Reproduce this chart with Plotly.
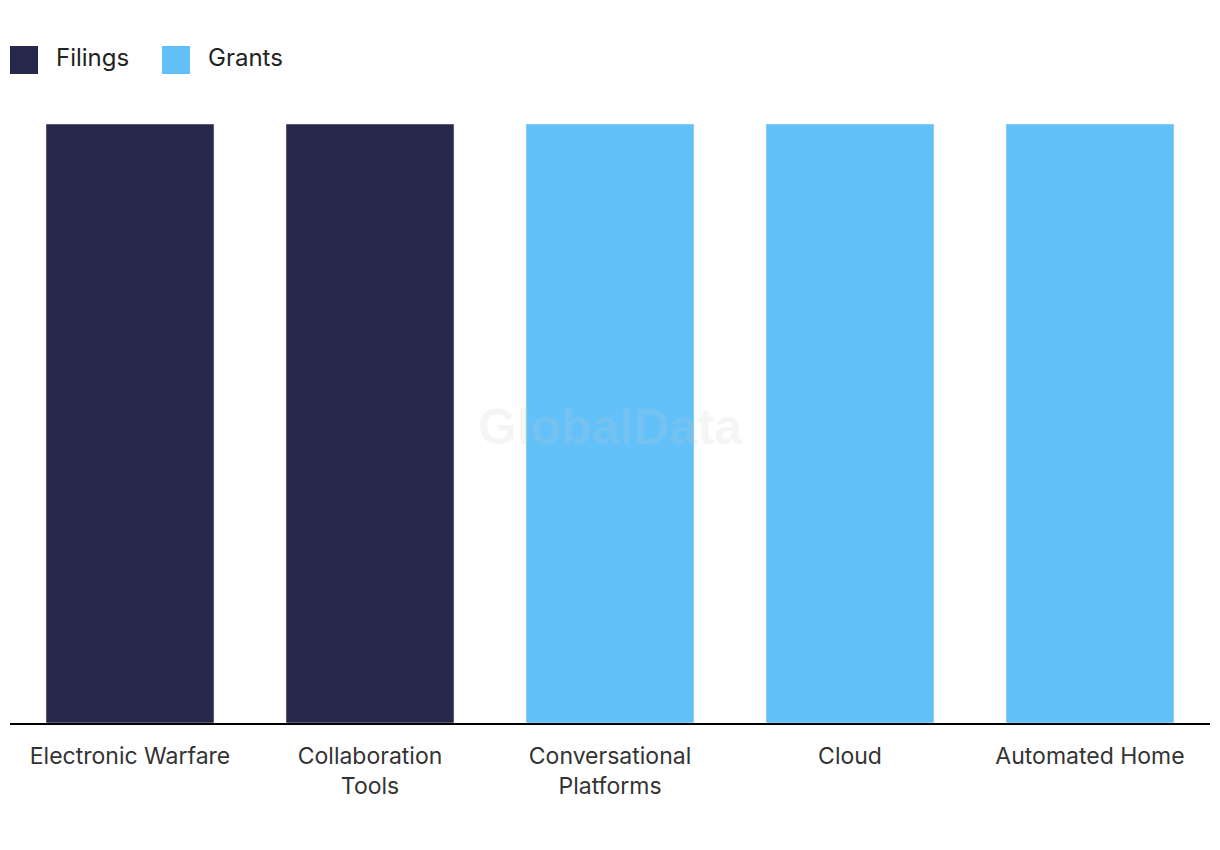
import plotly.graph_objects as go

categories = ["Electronic Warfare", "Collaboration<br>Tools", "Conversational<br>Platforms", "Cloud", "Automated Home"]
filings = [1, 1, None, None, None]
grants = [None, None, 1, 1, 1]

FILINGS_COLOR = "#272849"
GRANTS_COLOR = "#62C1F8"
FONT = "Inter, Noto Sans, sans-serif"

# page has an 8px body margin, so figure coordinates are shifted by 8
PLOT_W, PLOT_H = 1200, 599

fig = go.Figure()
fig.add_trace(go.Bar(x=categories, y=filings, name="Filings", marker_color=FILINGS_COLOR, showlegend=False))
fig.add_trace(go.Bar(x=categories, y=grants, name="Grants", marker_color=GRANTS_COLOR, showlegend=False))

# legend drawn by hand so the squares match the reference size
legend_items = [("Filings", FILINGS_COLOR, 10), ("Grants", GRANTS_COLOR, 162)]
for label, color, x0 in legend_items:
    fig.add_shape(type="rect", xref="paper", yref="paper",
                  x0=(x0 - 10) / PLOT_W, x1=(x0 + 18) / PLOT_W,
                  y0=1 + (124 - 74) / PLOT_H, y1=1 + (124 - 46) / PLOT_H,
                  fillcolor=color, line_width=0)
    fig.add_annotation(text=label, xref="paper", yref="paper",
                       x=(x0 + 34) / PLOT_W, y=1 + (124 - 57) / PLOT_H,
                       xanchor="left", yanchor="middle", showarrow=False,
                       font=dict(family=FONT, size=24, color="#222222"))

fig.add_annotation(text="<b>GlobalData</b>", xref="paper", yref="paper",
                   x=0.5, y=1 - (427 - 124) / PLOT_H, showarrow=False,
                   font=dict(family="Liberation Sans, Arial", size=50, color="rgba(200,200,200,0.18)"))

fig.update_layout(
    width=1220, height=850,
    margin=dict(l=2, r=18, t=116, b=135),
    paper_bgcolor="white", plot_bgcolor="white",
    barmode="overlay", bargap=0.3,
    font=dict(family=FONT, size=23, color="#333333"),
)
fig.update_xaxes(showline=True, linecolor="black", linewidth=2, showgrid=False,
                 ticks="", ticklabelstandoff=11, tickfont=dict(size=23, color="#333333"))
fig.update_yaxes(visible=False, range=[0, 1], showgrid=False)

fig.write_html("out.html")
